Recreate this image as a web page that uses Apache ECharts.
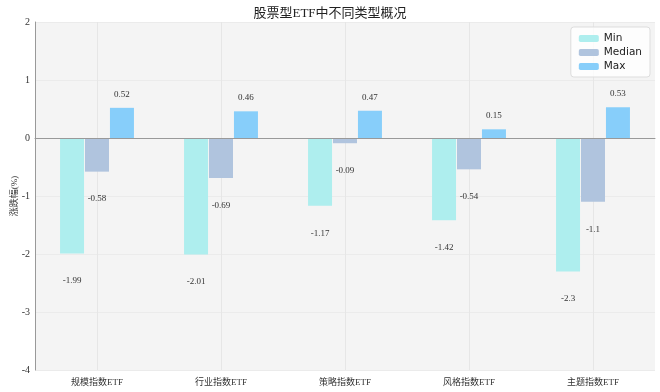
<!DOCTYPE html>
<html><head><meta charset="utf-8">
<script src="https://cdn.jsdelivr.net/npm/echarts@6/dist/echarts.min.js"></script>
<style>html,body{margin:0;padding:0;background:#fff}#c{width:660px;height:392px}</style>
</head><body><div id="c"></div>
<script>
const categories = ['规模指数ETF','行业指数ETF','策略指数ETF','风格指数ETF','主题指数ETF'];
const minVals = [-1.99, -2.01, -1.17, -1.42, -2.3];
const medianVals = [-0.58, -0.69, -0.09, -0.54, -1.1];
const maxVals = [0.52, 0.46, 0.47, 0.15, 0.53];
const yTicks = [-4, -3, -2, -1, 0, 1, 2];

const serif = '"Liberation Serif","DejaVu Serif","Noto Sans CJK SC",serif';
function mk(vals){
  return vals.map(v => ({value: v, label: {position: v < 0 ? 'bottom' : 'top', distance: v < 0 ? 23 : 9}}));
}
function series(name, vals, color, extra){
  return Object.assign({name, type: 'bar', data: mk(vals), barWidth: 24, barGap: '4%',
    itemStyle: {color},
    label: {show: true, fontFamily: serif, fontSize: 9, color: '#333', formatter: p => String(p.value)}}, extra || {});
}
const chart = echarts.init(document.getElementById('c'), null, {renderer: 'canvas'});
chart.setOption({
  animation: false,
  title: {text: '股票型ETF中不同类型概况', left: 'center', top: 2,
    textStyle: {fontFamily: serif, fontSize: 13, fontWeight: 'normal', color: '#222'}},
  legend: {data: ['Min','Median','Max'], orient: 'vertical', right: 10, top: 27,
    itemWidth: 20, itemHeight: 7, itemGap: 3, padding: [6, 8, 5, 8],
    backgroundColor: 'rgba(255,255,255,0.8)', borderColor: '#ddd', borderWidth: 1, borderRadius: 3,
    textStyle: {fontFamily: '"DejaVu Sans",sans-serif', fontSize: 10.5, color: '#222'}},
  grid: {left: 35, right: 5, top: 22, bottom: 22, show: true, backgroundColor: '#f4f4f4', borderWidth: 0,
    containLabel: false, outerBoundsMode: 'none'},
  xAxis: [{type: 'category', data: categories,
    axisLine: {show: true, lineStyle: {color: '#999'}}, axisTick: {show: false},
    axisLabel: {fontFamily: serif, fontSize: 9, color: '#333', margin: 8},
    splitLine: {show: false}},
    {type: 'value', min: 0, max: 10, interval: 1, show: true, position: 'top',
    axisLine: {show: false}, axisTick: {show: false}, axisLabel: {show: false},
    splitLine: {show: true, lineStyle: {color: ['rgba(0,0,0,0)', '#e6e6e6'], width: 1}}}],
  yAxis: {type: 'value', min: yTicks[0], max: yTicks[yTicks.length-1], interval: 1,
    name: '涨跌幅(%)', nameLocation: 'middle', nameGap: 16, nameRotate: 90, nameMoveOverlap: false,
    nameTextStyle: {fontFamily: serif, fontSize: 9, color: '#333'},
    axisLine: {show: true, lineStyle: {color: '#999'}}, axisTick: {show: false},
    axisLabel: {fontFamily: serif, fontSize: 10, color: '#333', margin: 5},
    splitLine: {show: true, lineStyle: {color: '#ebebeb'}}},
  series: [
    series('Min', minVals, '#aeeeee', {markLine: {silent: true, symbol: 'none', label: {show: false},
      lineStyle: {color: '#999', width: 1, type: 'solid'}, data: [{yAxis: 0}]}}),
    series('Median', medianVals, '#b0c4de'),
    series('Max', maxVals, '#87cefa')
  ]
});
</script></body></html>
